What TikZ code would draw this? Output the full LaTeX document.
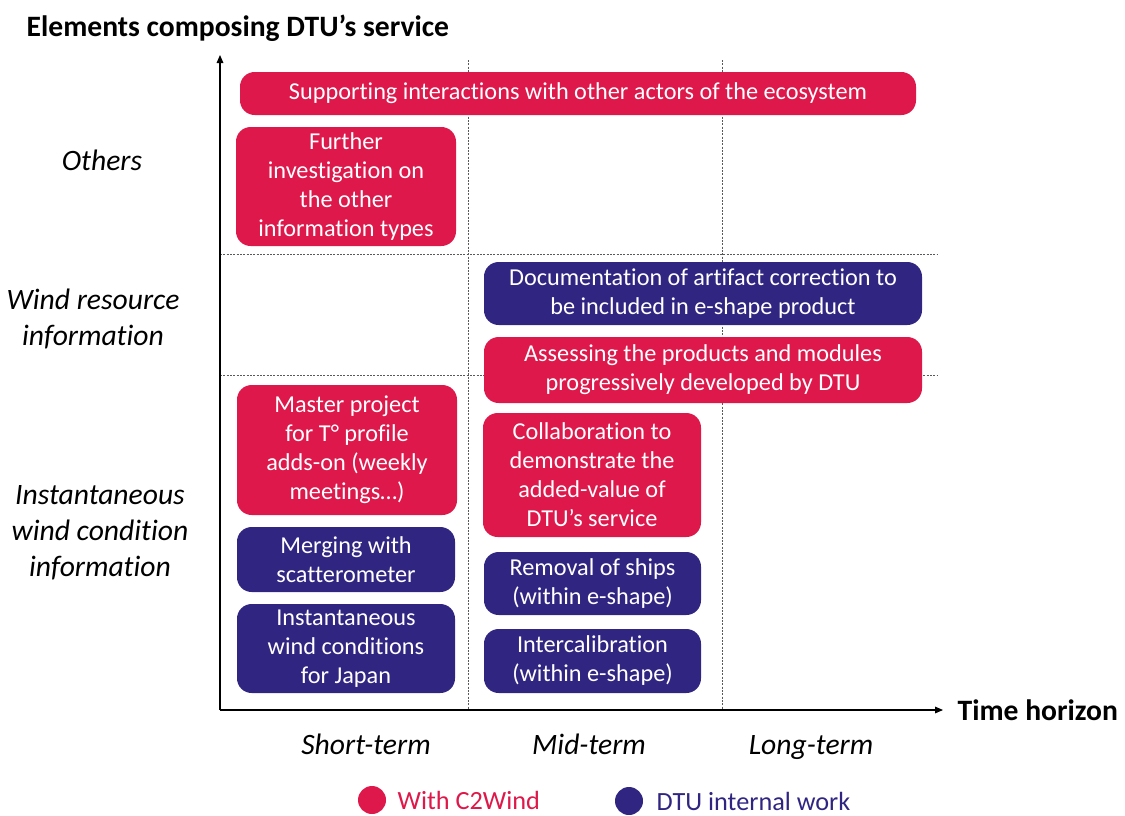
\documentclass[tikz,border=0pt]{standalone}
\usepackage{fontspec}
\setmainfont{Carlito}[Ligatures={NoCommon}]
\usetikzlibrary{arrows.meta}
\definecolor{cred}{RGB}{222,24,74}
\definecolor{cblue}{RGB}{48,38,130}
\begin{document}
\begin{tikzpicture}[x=0.75pt,y=-0.75pt,
  box/.style={rounded corners=11pt, inner sep=0pt, align=center, text=white,
    font=\fontsize{18.2}{21.75}\selectfont},
  redbox/.style={box, fill=cred},
  bluebox/.style={box, fill=cblue},
  grid/.style={gray!70!black, line width=0.5pt, dash pattern=on 1.5pt off 1pt},
  axis/.style={black, line width=0.8pt, -{Triangle[length=6pt,width=5pt]}},
  side/.style={font=\fontsize{22.2}{27}\selectfont\itshape, align=center},
  heading/.style={font=\fontsize{22.2}{26}\selectfont\bfseries}]
\useasboundingbox (0,0) rectangle (1125,815);
% grid
\draw[grid] (468,60) -- (468,710);
\draw[grid] (722,60) -- (722,710);
\draw[grid] (220,254) -- (938,254);
\draw[grid] (220,375) -- (938,375);
% axes
\coordinate (o) at (220,710);
\coordinate (ytop) at (220,55);
\coordinate (xend) at (943,710);
\draw[axis] (o) -- (ytop);
\draw[axis] (o) -- (xend);
\node[heading, anchor=west] (title) at (22,28) {Elements composing DTU’s service};
\node[heading, anchor=west] (th) at (953,710) {Time horizon};
% side labels
\node[side] (l1) at (102,160) {Others};
\node[side] (l2) at (93,319) {Wind resource\\information};
\node[side] (l3) at (100,533) {Instantaneous\\wind condition\\information};
\node[side, anchor=base] (b1) at (366,754) {Short-term};
\node[side, anchor=base] (b2) at (589,754) {Mid-term};
\node[side, anchor=base] (b3) at (811,754) {Long-term};
% boxes
\node[redbox, minimum width=507pt, minimum height=32.25pt] (n1) at (578,93.5) {Supporting interactions with other actors of the ecosystem};
\node[redbox, minimum width=165pt, minimum height=89.25pt] (n2) at (346,186.5) {Further\\investigation on\\the other\\information types};
\node[bluebox, minimum width=328.5pt, minimum height=47.25pt] (n3) at (703,293.5) {Documentation of artifact correction to\\be included in e-shape product};
\node[redbox, minimum width=328.5pt, minimum height=49.5pt] (n4) at (703,370) {Assessing the products and modules\\progressively developed by DTU};
\node[redbox, minimum width=165pt, minimum height=97.5pt] (n5) at (347,450) {Master project\\for T° profile\\adds-on (weekly\\meetings…)};
\node[redbox, minimum width=163.5pt, minimum height=93pt] (n6) at (592,475) {Collaboration to\\demonstrate the\\added-value of\\DTU’s service};
\node[bluebox, minimum width=163.5pt, minimum height=48.75pt] (n7) at (346,559.5) {Merging with\\scatterometer};
\node[bluebox, minimum width=162.75pt, minimum height=47.25pt] (n8) at (592.5,583.5) {Removal of ships\\(within e-shape)};
\node[bluebox, minimum width=163.5pt, minimum height=66.75pt] (n9) at (346,648.5) {Instantaneous\\wind conditions\\for Japan};
\node[bluebox, minimum width=162.75pt, minimum height=48pt] (n10) at (592.5,661) {Intercalibration\\(within e-shape)};
% legend
\node[circle, fill=cred, minimum size=21pt, inner sep=0pt] (c1) at (372,800) {};
\node[anchor=west, text=cred, font=\fontsize{19.7}{23}\selectfont] (t1) at (393,800) {With C2Wind};
\node[circle, fill=cblue, minimum size=21pt, inner sep=0pt] (c2) at (629,801) {};
\node[anchor=west, text=cblue, font=\fontsize{19.7}{23}\selectfont] (t2) at (652,801) {DTU internal work};
\end{tikzpicture}
\end{document}
